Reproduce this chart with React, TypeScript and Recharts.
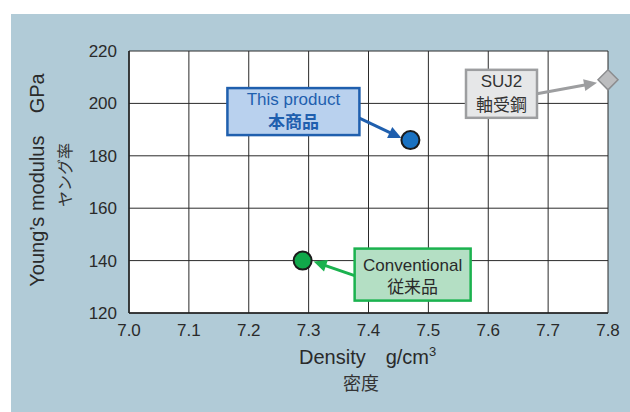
import { ScatterChart, Scatter, XAxis, YAxis, CartesianGrid } from 'recharts';

// values
const densityTicks = [7.0, 7.1, 7.2, 7.3, 7.4, 7.5, 7.6, 7.7, 7.8];
const modulusTicks = [120, 140, 160, 180, 200, 220];
const materialsEn = ['This product', 'Conventional', 'SUJ2'];
const materialsJa = ['本商品', '従来品', '軸受鋼'];
const density = [7.47, 7.29, 7.8];
const modulus = [186, 140, 209];

const FONT = '"Liberation Sans", Arial, sans-serif';
const CJK = '"Noto Sans CJK JP", sans-serif';
const INK = '#2a2a2a';

// box / arrow placement relative to each marker, plus colours
const styles = [
  {
    marker: 'circle', fill: '#1a72c2', stroke: '#1b1b1b',
    box: [-183, -52, 132, 47], boxFill: '#b9d1ee', boxStroke: '#1f5fae',
    text: '#1f5fae', lines: [-35, -12], boldJa: true,
    arrow: [-51, -22, -9, -2], arrowColor: '#1f5fae', size: [17, 17],
  },
  {
    marker: 'circle', fill: '#10a84a', stroke: '#1b1b1b',
    box: [52, -12, 116, 52], boxFill: '#b4dfc4', boxStroke: '#1bb24f',
    text: INK, lines: [10, 32], boldJa: false,
    arrow: [52, 15, 11, 1], arrowColor: '#1bb24f', size: [17, 17],
  },
  {
    marker: 'diamond', fill: '#bcbdbf', stroke: '#8c8d8f',
    box: [-142, -10, 71, 48], boxFill: '#e6e7e8', boxStroke: '#9d9ea0',
    text: '#333', lines: [7, 31], boldJa: false,
    arrow: [-71, 14, -11, 3], arrowColor: '#9d9ea0', size: [17, 17],
  },
];

const series = materialsEn.map((name, i) => ({
  name,
  ja: materialsJa[i],
  data: [{ x: density[i], y: modulus[i] }],
  style: styles[i],
}));

function arrow(cx, cy, a, color) {
  const [x1, y1, x2, y2] = [cx + a[0], cy + a[1], cx + a[2], cy + a[3]];
  const ang = Math.atan2(y2 - y1, x2 - x1);
  const len = 13;
  const half = 6;
  const bx = x2 - len * Math.cos(ang);
  const by = y2 - len * Math.sin(ang);
  const px = -Math.sin(ang) * half;
  const py = Math.cos(ang) * half;
  return (
    <g>
      <line x1={x1} y1={y1} x2={bx + 2 * Math.cos(ang)} y2={by + 2 * Math.sin(ang)} stroke={color} strokeWidth={3} />
      <polygon points={`${x2},${y2} ${bx + px},${by + py} ${bx - px},${by - py}`} fill={color} />
    </g>
  );
}

function makeShape(s, name, ja) {
  return (props) => {
    const { cx, cy } = props;
    const st = s;
    const [bx, by, bw, bh] = st.box;
    const mid = cx + bx + bw / 2;
    return (
      <g>
        {arrow(cx, cy, st.arrow, st.arrowColor)}
        <rect x={cx + bx} y={cy + by} width={bw} height={bh} fill={st.boxFill} stroke={st.boxStroke} strokeWidth={2.5} />
        <text x={mid} y={cy + st.lines[0]} textAnchor="middle" fill={st.text} fontFamily={FONT} fontSize={st.size[0]}>
          {name}
        </text>
        <text x={mid} y={cy + st.lines[1]} textAnchor="middle" fill={st.text} fontFamily={CJK} fontSize={st.size[1]}
          fontWeight={st.boldJa ? 700 : 400}>
          {ja}
        </text>
        {st.marker === 'circle' ? (
          <circle cx={cx} cy={cy} r={9} fill={st.fill} stroke={st.stroke} strokeWidth={2} />
        ) : (
          <polygon points={`${cx},${cy - 10} ${cx + 10},${cy} ${cx},${cy + 10} ${cx - 10},${cy}`}
            fill={st.fill} stroke={st.stroke} strokeWidth={1.5} />
        )}
      </g>
    );
  };
}

const tickStyle = { fill: INK, fontSize: 17, fontFamily: FONT };

export default function App() {
  return (
    <div style={{ position: 'absolute', left: 0, top: 0, width: 630, height: 412, background: '#fff' }}>
      <div style={{ position: 'absolute', left: 11, top: 14, width: 619, height: 398, background: '#b1cbd7' }} />
      <div style={{ position: 'absolute', left: 0, top: 0 }}>
        <ScatterChart width={630} height={412} margin={{ top: 51, right: 22, bottom: 0, left: 0 }}>
          <CartesianGrid fill="#fff" stroke="#2a2a2a" strokeWidth={1} />
          <XAxis
            type="number"
            dataKey="x"
            domain={[7.0, 7.8]}
            ticks={densityTicks}
            tickFormatter={(v) => v.toFixed(1)}
            tick={tickStyle}
            tickLine={false}
            tickSize={0}
            tickMargin={11}
            axisLine={{ stroke: '#222', strokeWidth: 1.5 }}
            height={99}
          />
          <YAxis
            type="number"
            dataKey="y"
            domain={[120, 220]}
            ticks={modulusTicks}
            tick={tickStyle}
            tickLine={false}
            tickSize={0}
            tickMargin={12}
            axisLine={{ stroke: '#222', strokeWidth: 1.5 }}
            width={129}
          />
          {series.map((s) => (
            <Scatter
              key={s.name}
              name={s.name}
              data={s.data}
              shape={makeShape(s.style, s.name, s.ja)}
              isAnimationActive={false}
            />
          ))}
        </ScatterChart>
      </div>
      <svg width={630} height={412} style={{ position: 'absolute', left: 0, top: 0, pointerEvents: 'none' }}>
        <text transform="translate(44,180) rotate(-90)" textAnchor="middle" fill={INK} fontFamily={FONT} fontSize={20}>
          {'Young’s modulus\u00a0\u00a0\u00a0\u00a0GPa'}
        </text>
        <text transform="translate(71,175) rotate(-90)" textAnchor="middle" fill="#333" fontFamily={CJK} fontSize={16}>
          ヤング率
        </text>
        <text x={299} y={364} fill={INK} fontFamily={FONT} fontSize={20}>
          {'Density\u2003g/cm'}
          <tspan fontSize={13} dy={-8}>3</tspan>
        </text>
        <text x={361} y={390} textAnchor="middle" fill="#333" fontFamily={CJK} fontSize={18}>
          密度
        </text>
      </svg>
    </div>
  );
}
